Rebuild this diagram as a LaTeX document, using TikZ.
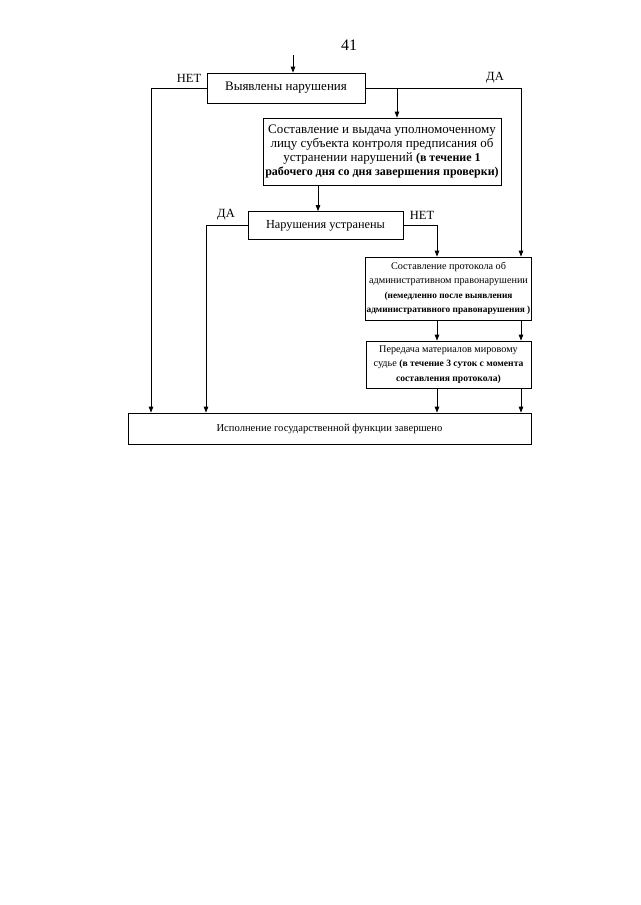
\documentclass[tikz,border=0pt]{standalone}
\usepackage{fontspec}
\setmainfont{Liberation Serif}
\usetikzlibrary{arrows.meta}
\tikzset{
  blk/.style={draw,line width=0.8pt,inner sep=1pt,align=center,font=\fontsize{13}{14.3}\selectfont},
  mal/.style={blk,font=\fontsize{10.2}{14.5}\selectfont},
  metka/.style={font=\fontsize{12.5}{12.5}\selectfont},
  arr/.style={line width=0.8pt,-{Triangle[length=6pt,width=4.5pt]}}
}
\newcommand{\Zhir}[2][12]{{\bfseries\fontsize{#1}{14}\selectfont #2}}

\begin{document}
\begin{tikzpicture}[x=1pt,y=-1pt]
  \useasboundingbox[fill=white] (0,0) rectangle (640,905);
  \node[font=\fontsize{16}{16}\selectfont] (nomer) at (349,45) {41};
  \node[blk,minimum width=158,minimum height=30] (vyyav) at (286,88) {Выявлены нарушения};
  \node[blk,minimum width=238,minimum height=67] (predp) at (382,151.5)
    {Составление и выдача уполномоченному\\лицу субъекта контроля предписания об\\устранении нарушений \Zhir{(в течение 1}\\\Zhir{рабочего дня со дня завершения проверки)}};
  \node[blk,font=\fontsize{12.3}{14}\selectfont,minimum width=155,minimum height=28] (ustr) at (325.5,225.5) {Нарушения устранены};
  \node[mal,minimum width=165,minimum height=63] (protok) at (448.5,288.5)
    {Составление протокола об\\административном правонарушении\\\Zhir[9.3]{(немедленно после выявления}\\\Zhir[9.3]{административного правонарушения )}};
  \node[mal,minimum width=165,minimum height=47] (peredacha) at (448.5,364.5)
    {Передача материалов мировому\\судье \Zhir[9.6]{(в течение 3 суток с момента}\\\Zhir[9.6]{составления протокола)}};
  \node[blk,font=\fontsize{10.6}{14}\selectfont,minimum width=403,minimum height=31] (ispoln) at (329.5,428.5) {Исполнение государственной функции завершено};

  \node[metka] (net1) at (189,78) {НЕТ};
  \node[metka] (da1) at (495,78) {ДА};
  \node[metka] (da2) at (226,215) {ДА};
  \node[metka] (net2) at (422,215) {НЕТ};

  \coordinate (vkhod) at (293,55);
  \coordinate (kolNet) at (151,0);
  \coordinate (kolDa) at (521,0);
  \coordinate (otvod) at (397,88);
  \coordinate (spusk) at (318,0);
  \coordinate (kolDa2) at (206,0);
  \coordinate (kolNet2) at (437,0);

  \draw[arr] (vkhod) -- (vkhod |- vyyav.north);
  \draw[arr] (vyyav.west) -| (kolNet |- ispoln.north);
  \draw[arr] (vyyav.east) -| (kolDa |- protok.north);
  \draw[arr] (otvod) -- (otvod |- predp.north);
  \draw[arr] (spusk |- predp.south) -- (spusk |- ustr.north);
  \draw[arr] (ustr.west) -| (kolDa2 |- ispoln.north);
  \draw[arr] (ustr.east) -| (kolNet2 |- protok.north);
  \foreach \xx [count=\i] in {437,521}{
    \coordinate (stolb\i) at (\xx,0);
    \draw[arr] (stolb\i |- protok.south) -- (stolb\i |- peredacha.north);
    \draw[arr] (stolb\i |- peredacha.south) -- (stolb\i |- ispoln.north);
  }
\end{tikzpicture}
\end{document}
